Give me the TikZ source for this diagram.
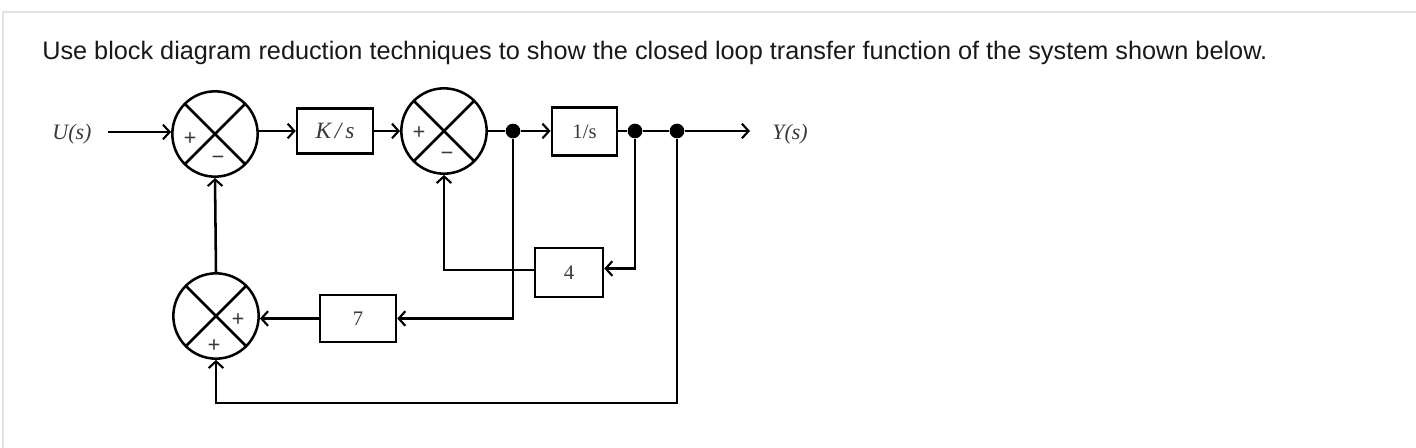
\documentclass[tikz,border=0pt]{standalone}
\usepackage{fontspec}
\setmainfont{Liberation Serif}
\newfontfamily\titlefont{Liberation Sans}
\usetikzlibrary{arrows.meta}
\definecolor{labgray}{HTML}{3A3A3A}
\definecolor{framegray}{HTML}{E2E2E2}
\begin{document}
\begin{tikzpicture}[x=0.75pt,y=-0.75pt,
  wire/.style={line width=1.9pt},
  arr/.style={wire,-{Straight Barb[length=5pt,width=11pt,line width=1.6pt]}},
  sumj/.style={circle,draw,line width=1.9pt,minimum size=64pt,inner sep=0pt,
    path picture={\draw[line width=1.9pt]
      (path picture bounding box.north west) -- (path picture bounding box.south east)
      (path picture bounding box.north east) -- (path picture bounding box.south west);}},
  blk/.style={draw,line width=1.9pt,inner sep=0pt,text=labgray,font=\fontsize{15.5}{17}\selectfont},
  dot/.style={circle,fill=black,inner sep=0pt,minimum size=11pt},
  sgn/.style={text=labgray,font=\fontsize{17}{18}\selectfont\bfseries,inner sep=0pt},
  lab/.style={text=labgray,font=\fontsize{16.5}{18}\selectfont\itshape,inner sep=0pt}]
\useasboundingbox (0,0) rectangle (1416,447);
\fill[white] (0,0) rectangle (1416,447);
\draw[framegray,line width=1.4pt] (3,460) -- (3,12) -- (1430,12);
\node[anchor=base west,inner sep=0pt,text={black!90}] (title) at (42,59)
  {\resizebox{918.75pt}{!}{\titlefont Use block diagram reduction techniques to show the closed loop transfer function of the system shown below.}};
% nodes
\node[lab] (U) at (72,134) {U(s)};
\coordinate (uin) at (108,132);
\node[sumj] (s1) at (215,134) {};
\node[blk,minimum width=57pt,minimum height=34pt] (ks) at (335,131) {\fontsize{17.5}{18}\selectfont\itshape K\,/\,s};
\node[sumj] (s2) at (444,131) {};
\node[dot] (d1) at (513,131) {};
\node[blk,minimum width=49pt,minimum height=36pt] (bs) at (584.5,131.5) {1/s};
\node[dot] (d2) at (635,131) {};
\node[dot] (d3) at (677,131) {};
\coordinate (out) at (750,131);
\node[lab] (Y) at (790,134) {Y(s)};
\node[blk,minimum width=51pt,minimum height=37pt] (b4) at (569,272.5) {4};
\node[blk,minimum width=57pt,minimum height=35pt] (b7) at (358,318.5) {7};
\node[sumj] (s3) at (216,316) {};
\coordinate (c4) at (444,270);
\coordinate (cb) at (677,403);
% signs
\node[sgn] (p1) at (190,139) {+};
\node[sgn] (m1) at (218,160) {\textminus};
\node[sgn] (p2) at (419,133) {+};
\node[sgn] (m2) at (447,156) {\textminus};
\node[sgn] (p3) at (238,320) {+};
\node[sgn] (p4) at (214,346) {+};
% connectors
\draw[arr] (uin) -- (uin -| s1.west);
\draw[arr] (s1.east |- ks.west) -- (ks.west);
\draw[arr] (ks.east) -- (ks.east -| s2.west);
\draw[wire] (s2.east |- d1) -- (d1);
\draw[arr] (d1) -- (d1 -| bs.west);
\draw[wire] (bs.east |- d2) -- (d2) -- (d3);
\draw[arr] (d3) -- (out);
\draw[arr] (d2) |- ([yshift=3pt]b4.east);
\draw[arr] (b4.west |- c4) -- (c4) -- (s2.south);
\draw[arr] (d1) |- (b7.east);
\draw[arr] (b7.west) -- (b7.west -| s3.east);
\draw[arr] (s3.north) -- (s1.south);
\draw[arr] (d3) -- (cb) -| (s3.south);
\end{tikzpicture}
\end{document}
